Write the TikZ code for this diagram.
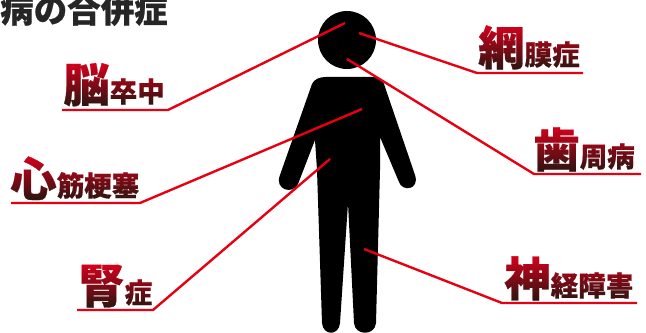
\documentclass[tikz,border=0pt]{standalone}
\usepackage{fontspec}
\usepackage{xcolor}
\newfontfamily\cjk{Noto Sans CJK JP}[BoldFeatures={FakeBold=0.6}]
\newcommand{\bigk}{\fontsize{33}{33}\selectfont}
\newcommand{\smallk}{\fontsize{19.6}{20}\selectfont}
\definecolor{leadred}{HTML}{E60012}
\definecolor{gradred}{HTML}{D5001C}
\definecolor{gradmid}{HTML}{B00A18}
\definecolor{graddark}{HTML}{2A1510}
\begin{document}
\begin{tikzpicture}[x=0.025cm,y=-0.025cm,
    sick/.style={anchor=base west,inner sep=0pt,text=black,font=\cjk\bfseries},
    grad/.style={top color=gradred,middle color=gradmid,bottom color=graddark,draw=none,blend mode=screen},
    leader/.style={leadred,line width=1.7pt,line join=miter}]
  \useasboundingbox (0,0) rectangle (646,333);
  \fill[white] (0,0) rectangle (646,333);
  % Title, cut by the page edge
  \node[anchor=base west,inner sep=0pt,text=black!85,font=\cjk\bfseries\fontsize{23.8}{25}\selectfont] (title) at (0,22.5) {病の合併症};
  % Labels on the left
  \node[sick] (nou) at (63,102) {{\bigk 脳}{\smallk 卒中}};
  \shade[grad] (nou.north west) rectangle (nou.south east);
  \node[sick] (shin) at (10,196) {{\bigk 心}{\smallk 筋梗塞}};
  \shade[grad] (shin.north west) rectangle (shin.south east);
  \node[sick] (jin) at (78,303) {{\bigk 腎}{\smallk 症}};
  \shade[grad] (jin.north west) rectangle (jin.south east);
  % Labels on the right
  \node[sick] (mou) at (478,65) {{\bigk 網}{\smallk 膜症}};
  \shade[grad] (mou.north west) rectangle (mou.south east);
  \node[sick] (shi) at (533,167) {{\bigk 歯}{\smallk 周病}};
  \shade[grad] (shi.north west) rectangle (shi.south east);
  \node[sick] (kei) at (504,296) {{\bigk 神}{\smallk 経障害}};
  \shade[grad] (kei.north west) rectangle (kei.south east);
  % Figure
  \fill[black] (347,40) circle(29);
  \fill[black] (326,77) -- (372,77)
    .. controls (378,77) and (382,79) .. (384,84) -- (415,175)
    .. controls (420,190) and (402,192) .. (399,182)
    -- (380,137) -- (380,170) -- (376,323)
    .. controls (375,336) and (355,336) .. (354,323)
    -- (348,203) -- (340,323)
    .. controls (339,336) and (323,336) .. (322,323)
    -- (317,170) -- (315,140)
    -- (298,184)
    .. controls (293,195) and (274,190) .. (280,175)
    -- (312,84) .. controls (314,79) and (320,77) .. (326,77) -- cycle;
  % Leader lines
  \coordinate (nouL) at (62,110);  \coordinate (nouK) at (168,110);  \coordinate (nouE) at (345,23);
  \coordinate (shinL) at (11,203); \coordinate (shinK) at (140,203); \coordinate (shinE) at (362,109);
  \coordinate (jinL) at (77,310);  \coordinate (jinK) at (153,310);  \coordinate (jinE) at (330,159);
  \coordinate (mouR) at (583,73);  \coordinate (mouK) at (477,73);   \coordinate (mouE) at (359,33);
  \coordinate (shiR) at (641,174); \coordinate (shiK) at (534,174);  \coordinate (shiE) at (347,59);
  \coordinate (keiR) at (637,303); \coordinate (keiK) at (502,303);  \coordinate (keiE) at (364,249);
  \draw[leader] (nouL) -- (nouK) -- (nouE);
  \draw[leader] (shinL) -- (shinK) -- (shinE);
  \draw[leader] (jinL) -- (jinK) -- (jinE);
  \draw[leader] (mouR) -- (mouK) -- (mouE);
  \draw[leader] (shiR) -- (shiK) -- (shiE);
  \draw[leader] (keiR) -- (keiK) -- (keiE);
\end{tikzpicture}
\end{document}
